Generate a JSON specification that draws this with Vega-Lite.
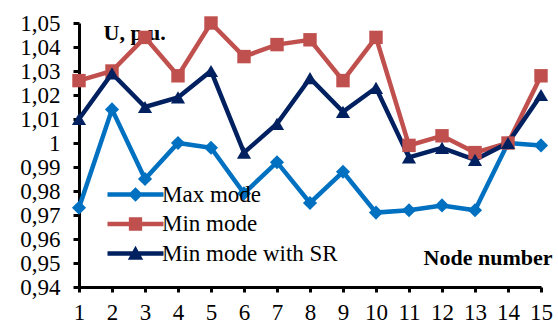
{
  "$schema": "https://vega.github.io/schema/vega-lite/v6.json",
  "width": 462,
  "height": 264,
  "autosize": {"type": "none"},
  "padding": {"left": 79, "top": 23, "right": 17, "bottom": 37},
  "background": "white",
  "config": {
    "view": {"stroke": null},
    "font": "Liberation Serif, Times New Roman, serif",
    "text": {"font": "Liberation Serif, Times New Roman, serif"},
    "legend": {"labelFont": "Liberation Serif, Times New Roman, serif"},
    "axis": {"grid": false, "domainColor": "black", "domainWidth": 3, "tickColor": "black", "tickWidth": 3, "tickSize": 6, "labelFont": "Liberation Serif, Times New Roman, serif", "labelFontSize": 23, "labelColor": "black", "labelOverlap": false, "labelFlush": false, "titleFont": "Liberation Serif, Times New Roman, serif", "titleFontSize": 22, "titleFontWeight": "bold", "titleColor": "black"}
  },
  "data": {
    "values": [
      {"node": 1, "series": "Max mode", "u": 0.973},
      {"node": 2, "series": "Max mode", "u": 1.014},
      {"node": 3, "series": "Max mode", "u": 0.985},
      {"node": 4, "series": "Max mode", "u": 1.000},
      {"node": 5, "series": "Max mode", "u": 0.998},
      {"node": 6, "series": "Max mode", "u": 0.979},
      {"node": 7, "series": "Max mode", "u": 0.992},
      {"node": 8, "series": "Max mode", "u": 0.975},
      {"node": 9, "series": "Max mode", "u": 0.988},
      {"node": 10, "series": "Max mode", "u": 0.971},
      {"node": 11, "series": "Max mode", "u": 0.972},
      {"node": 12, "series": "Max mode", "u": 0.974},
      {"node": 13, "series": "Max mode", "u": 0.972},
      {"node": 14, "series": "Max mode", "u": 1.000},
      {"node": 15, "series": "Max mode", "u": 0.999},
      {"node": 1, "series": "Min mode", "u": 1.026},
      {"node": 2, "series": "Min mode", "u": 1.030},
      {"node": 3, "series": "Min mode", "u": 1.044},
      {"node": 4, "series": "Min mode", "u": 1.028},
      {"node": 5, "series": "Min mode", "u": 1.050},
      {"node": 6, "series": "Min mode", "u": 1.036},
      {"node": 7, "series": "Min mode", "u": 1.041},
      {"node": 8, "series": "Min mode", "u": 1.043},
      {"node": 9, "series": "Min mode", "u": 1.026},
      {"node": 10, "series": "Min mode", "u": 1.044},
      {"node": 11, "series": "Min mode", "u": 0.999},
      {"node": 12, "series": "Min mode", "u": 1.003},
      {"node": 13, "series": "Min mode", "u": 0.996},
      {"node": 14, "series": "Min mode", "u": 1.000},
      {"node": 15, "series": "Min mode", "u": 1.028},
      {"node": 1, "series": "Min mode with SR", "u": 1.010},
      {"node": 2, "series": "Min mode with SR", "u": 1.029},
      {"node": 3, "series": "Min mode with SR", "u": 1.015},
      {"node": 4, "series": "Min mode with SR", "u": 1.019},
      {"node": 5, "series": "Min mode with SR", "u": 1.030},
      {"node": 6, "series": "Min mode with SR", "u": 0.996},
      {"node": 7, "series": "Min mode with SR", "u": 1.008},
      {"node": 8, "series": "Min mode with SR", "u": 1.027},
      {"node": 9, "series": "Min mode with SR", "u": 1.013},
      {"node": 10, "series": "Min mode with SR", "u": 1.023},
      {"node": 11, "series": "Min mode with SR", "u": 0.994},
      {"node": 12, "series": "Min mode with SR", "u": 0.998},
      {"node": 13, "series": "Min mode with SR", "u": 0.993},
      {"node": 14, "series": "Min mode with SR", "u": 1.000},
      {"node": 15, "series": "Min mode with SR", "u": 1.020}
    ]
  },
  "encoding": {
    "x": {
      "field": "node", "type": "quantitative",
      "scale": {"domain": [1, 15], "nice": false, "zero": false},
      "axis": {"values": [1,2,3,4,5,6,7,8,9,10,11,12,13,14,15], "format": "d", "title": "Node number", "titleAnchor": null, "titleAlign": "right", "titleBaseline": "middle", "titleX": 473, "titleY": -30, "labelPadding": 9, "tickSize": 5}
    },
    "y": {
      "field": "u", "type": "quantitative",
      "scale": {"domain": [0.94, 1.05], "nice": false, "zero": false},
      "axis": {"values": [0.94,0.95,0.96,0.97,0.98,0.99,1,1.01,1.02,1.03,1.04,1.05], "labelExpr": "abs(datum.value - 1) < 1e-9 ? '1' : replace(format(datum.value, '.2f'), '.', ',')", "title": "U, p.u.", "titleAngle": 0, "titleAnchor": null, "titleAlign": "left", "titleBaseline": "middle", "titleX": 24, "titleY": 9, "labelPadding": 13}
    },
    "color": {
      "field": "series", "type": "nominal",
      "scale": {"domain": ["Max mode", "Min mode", "Min mode with SR"], "range": ["#0070C0", "#C0504D", "#002060"]},
      "legend": {
        "title": null, "orient": "none", "legendX": 45, "legendY": 160, "padding": 0,
        "labelFont": "Liberation Serif, Times New Roman, serif", "labelFontSize": 23, "labelColor": "black", "labelOffset": 15, "labelLimit": 400,
        "symbolSize": 196, "rowPadding": 5.5,
        "encode": {
          "symbols": {
            "update": {
              "shape": {"signal": "datum.value === 'Max mode' ? 'M-4,-0.32H4V0.32H-4Z M0,-1.05L1.05,0L0,1.05L-1.05,0Z' : datum.value === 'Min mode' ? 'M-4,-0.32H4V0.32H-4Z M-0.95,-0.95H0.95V0.95H-0.95Z' : 'M-4,-0.32H4V0.32H-4Z M0,-1.1L1.1,0.9H-1.1Z'"},
              "fill": {"scale": "color", "field": "value"},
              "stroke": {"value": "transparent"},
              "strokeWidth": {"value": 0},
              "opacity": {"value": 1}
            }
          }
        }
      }
    }
  },
  "layer": [
    {"mark": {"type": "line", "strokeWidth": 4.5}},
    {
      "transform": [{"filter": "datum.series === 'Max mode'"}],
      "mark": {"type": "point", "filled": true, "size": 200, "opacity": 1, "shape": "diamond"}
    },
    {
      "transform": [{"filter": "datum.series === 'Min mode'"}],
      "mark": {"type": "point", "filled": true, "size": 180, "opacity": 1, "shape": "square"}
    },
    {
      "transform": [{"filter": "datum.series === 'Min mode with SR'"}],
      "mark": {"type": "point", "filled": true, "size": 200, "opacity": 1, "shape": "triangle-up"}
    }
  ]
}
